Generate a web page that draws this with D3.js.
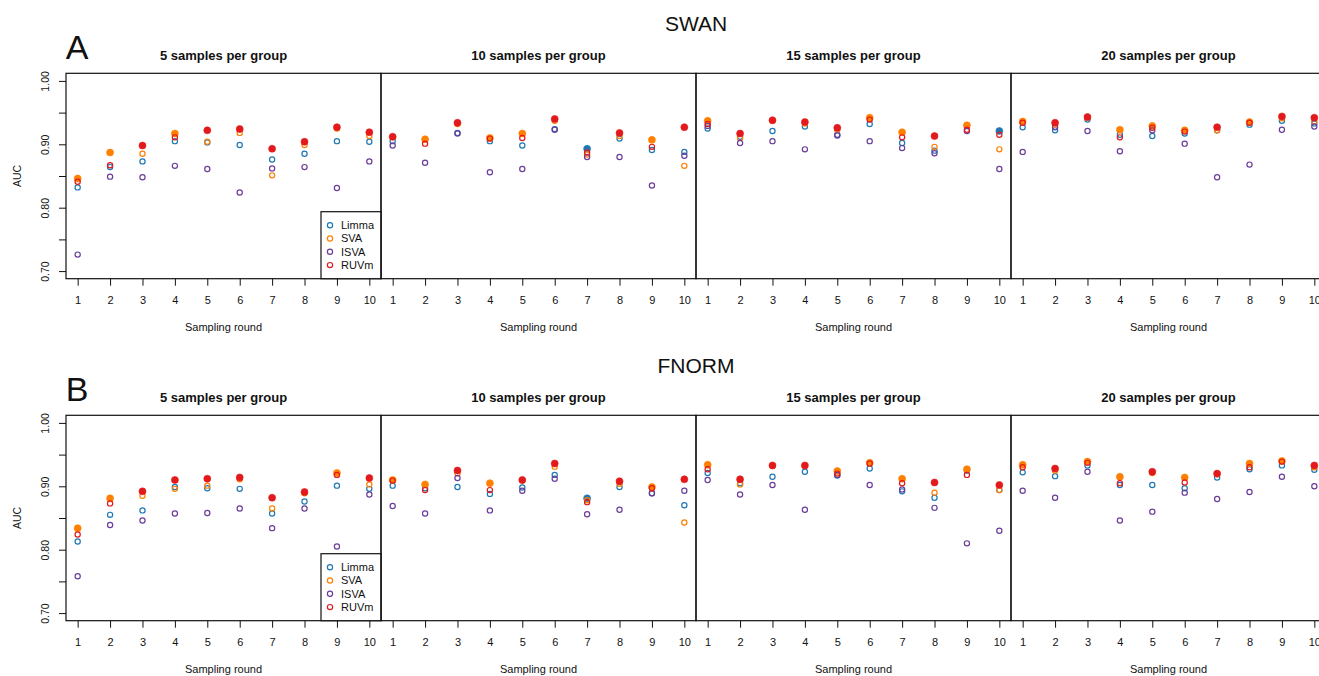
<!DOCTYPE html>
<html>
<head>
<meta charset="utf-8">
<script src="https://cdn.jsdelivr.net/npm/d3@7"></script>
<style>
  html, body { margin: 0; padding: 0; background: #fff; }
  svg { display: block; font-family: "Liberation Sans", Arial, Helvetica, sans-serif; }
</style>
</head>
<body>
<svg id="chart" width="1319" height="676"></svg>
<script>
// ---------- data ----------
const rounds = [1, 2, 3, 4, 5, 6, 7, 8, 9, 10];
const sampleSizes = [5, 10, 15, 20];
const panelTitles = ["5 samples per group", "10 samples per group", "15 samples per group", "20 samples per group"];
const methods = ["Limma", "SVA", "ISVA", "RUVm"];
const methodColors = ["#1F78B4", "#FF7F00", "#6A3D9A", "#E31A1C"];
const normalizations = ["SWAN", "FNORM"];
const rowLetters = ["A", "B"];
const yTicks = [0.70, 0.75, 0.80, 0.85, 0.90, 0.95, 1.00];
const yTickLabels = ["0.70", "", "0.80", "", "0.90", "", "1.00"];

// SWAN: one row per sample size (5, 10, 15, 20), 10 sampling rounds each
const swanLimma = [
  [0.832, 0.864, 0.873, 0.905, 0.903, 0.899, 0.876, 0.885, 0.905, 0.904],
  [0.905, 0.907, 0.918, 0.905, 0.898, 0.924, 0.893, 0.909, 0.891, 0.888],
  [0.925, 0.912, 0.921, 0.928, 0.915, 0.932, 0.902, 0.890, 0.929, 0.921],
  [0.927, 0.922, 0.939, 0.915, 0.913, 0.917, 0.922, 0.931, 0.937, 0.933]
];
const swanSVA = [
  [0.846, 0.887, 0.885, 0.917, 0.904, 0.918, 0.851, 0.899, 0.925, 0.913],
  [0.911, 0.908, 0.932, 0.910, 0.917, 0.937, 0.884, 0.913, 0.907, 0.866],
  [0.937, 0.910, 0.937, 0.933, 0.923, 0.942, 0.919, 0.896, 0.930, 0.892],
  [0.936, 0.931, 0.942, 0.923, 0.929, 0.922, 0.922, 0.935, 0.941, 0.936]
];
const swanISVA = [
  [0.726, 0.849, 0.848, 0.866, 0.861, 0.824, 0.862, 0.864, 0.831, 0.873],
  [0.898, 0.871, 0.917, 0.856, 0.861, 0.923, 0.880, 0.880, 0.835, 0.882],
  [0.929, 0.902, 0.905, 0.892, 0.914, 0.905, 0.894, 0.886, 0.921, 0.861],
  [0.888, 0.927, 0.921, 0.889, 0.922, 0.901, 0.848, 0.868, 0.923, 0.928]
];
const swanRUVm = [
  [0.841, 0.867, 0.898, 0.911, 0.922, 0.924, 0.893, 0.904, 0.927, 0.919],
  [0.912, 0.901, 0.934, 0.909, 0.910, 0.940, 0.887, 0.918, 0.896, 0.927],
  [0.932, 0.917, 0.938, 0.935, 0.926, 0.939, 0.911, 0.913, 0.923, 0.915],
  [0.934, 0.934, 0.943, 0.911, 0.926, 0.920, 0.927, 0.934, 0.944, 0.942]
];

// FNORM
const fnormLimma = [
  [0.813, 0.855, 0.862, 0.899, 0.897, 0.896, 0.857, 0.876, 0.901, 0.896],
  [0.901, 0.897, 0.899, 0.888, 0.898, 0.918, 0.881, 0.899, 0.889, 0.870],
  [0.921, 0.905, 0.915, 0.923, 0.917, 0.928, 0.892, 0.882, 0.925, 0.894],
  [0.922, 0.916, 0.933, 0.902, 0.902, 0.897, 0.914, 0.927, 0.933, 0.926]
];
const fnormSVA = [
  [0.834, 0.881, 0.885, 0.896, 0.901, 0.911, 0.865, 0.889, 0.921, 0.903],
  [0.910, 0.903, 0.920, 0.905, 0.909, 0.931, 0.878, 0.904, 0.899, 0.843],
  [0.934, 0.903, 0.932, 0.932, 0.924, 0.937, 0.912, 0.890, 0.927, 0.894],
  [0.934, 0.925, 0.939, 0.915, 0.921, 0.914, 0.919, 0.936, 0.940, 0.930]
];
const fnormISVA = [
  [0.758, 0.839, 0.846, 0.857, 0.858, 0.865, 0.834, 0.865, 0.805, 0.887],
  [0.869, 0.857, 0.913, 0.862, 0.893, 0.912, 0.856, 0.863, 0.889, 0.893],
  [0.910, 0.887, 0.902, 0.863, 0.918, 0.902, 0.895, 0.866, 0.810, 0.830],
  [0.893, 0.882, 0.923, 0.846, 0.860, 0.890, 0.880, 0.891, 0.915, 0.900]
];
const fnormRUVm = [
  [0.824, 0.873, 0.892, 0.910, 0.912, 0.914, 0.882, 0.891, 0.918, 0.913],
  [0.909, 0.894, 0.925, 0.894, 0.910, 0.936, 0.875, 0.908, 0.897, 0.911],
  [0.927, 0.911, 0.933, 0.933, 0.920, 0.936, 0.905, 0.906, 0.918, 0.902],
  [0.930, 0.928, 0.937, 0.905, 0.923, 0.906, 0.920, 0.930, 0.939, 0.933]
];

const rowData = [
  [swanLimma, swanSVA, swanISVA, swanRUVm],
  [fnormLimma, fnormSVA, fnormISVA, fnormRUVm]
];

// ---------- layout ----------
const svg = d3.select("#chart");
const plotLeft = 66, panelW = 315;
const rowTop = [73.3, 415.3];
const rowH = 205.4;
const ink = "#111";

rowData.forEach((series, r) => {
  const top = rowTop[r], bottom = top + rowH;
  const g = svg.append("g");

  const y = d3.scaleLinear().domain([0.688, 1.012]).range([bottom, top]);

  // main title
  g.append("text").attr("x", plotLeft + panelW * 2).attr("y", top - 42)
    .attr("text-anchor", "middle").attr("font-size", 21).attr("fill", ink)
    .text(normalizations[r]);
  // row letter
  g.append("text").attr("x", 77).attr("y", top - 14)
    .attr("text-anchor", "middle").attr("font-size", 34).attr("fill", ink)
    .text(rowLetters[r]);

  // y axis
  const yAxis = d3.axisLeft(y).tickValues(yTicks).tickSize(7)
    .tickFormat((d, i) => yTickLabels[i]);
  const ya = g.append("g").attr("transform", `translate(${plotLeft},0)`).call(yAxis);
  ya.select(".domain").remove();
  ya.selectAll(".tick line").attr("stroke", ink);
  ya.selectAll(".tick text")
    .attr("x", null).attr("dy", null)
    .attr("transform", "translate(-20.7,0) rotate(-90)")
    .attr("text-anchor", "middle").attr("dominant-baseline", "central")
    .attr("font-size", 10.5).attr("fill", ink)
    .attr("font-family", "Liberation Sans, Arial, sans-serif");

  g.append("text")
    .attr("transform", `translate(17.3,${(top + bottom) / 2}) rotate(-90)`)
    .attr("text-anchor", "middle").attr("dominant-baseline", "central")
    .attr("font-size", 10.5).attr("fill", ink).text("AUC");

  sampleSizes.forEach((s, p) => {
    const x0 = plotLeft + p * panelW;
    const x = d3.scaleLinear().domain([0.64, 10.36]).range([x0, x0 + panelW]);
    const pg = g.append("g");

    // panel title
    pg.append("text").attr("x", x0 + panelW / 2).attr("y", top - 13)
      .attr("text-anchor", "middle").attr("font-size", 13).attr("font-weight", "bold")
      .attr("fill", ink).text(panelTitles[p]);

    // x axis
    const xAxis = d3.axisBottom(x).tickValues(rounds).tickSize(7).tickFormat(d3.format("d"));
    const xa = pg.append("g").attr("transform", `translate(0,${bottom})`).call(xAxis);
    xa.select(".domain").remove();
    xa.selectAll(".tick line").attr("stroke", ink);
    xa.selectAll(".tick text").attr("y", 21.5).attr("dy", "0.35em")
      .attr("font-size", 11).attr("fill", ink)
      .attr("font-family", "Liberation Sans, Arial, sans-serif");

    pg.append("text").attr("x", x0 + panelW / 2).attr("y", bottom + 52)
      .attr("text-anchor", "middle").attr("font-size", 11).attr("fill", ink)
      .text("Sampling round");

    // points: highest AUC in each round is drawn filled
    const pts = [];
    methods.forEach((m, mi) => {
      rounds.forEach((rd, ri) => {
        const vals = methods.map((_, k) => series[k][p][ri]);
        const best = d3.maxIndex(vals) === mi;
        pts.push({ round: rd, value: series[mi][p][ri], color: methodColors[mi], best });
      });
    });
    pg.selectAll("circle.pt").data(pts).join("circle").attr("class", "pt")
      .attr("cx", d => x(d.round)).attr("cy", d => y(d.value))
      .attr("r", d => d.best ? 3.5 : 2.6)
      .attr("fill", d => d.best ? d.color : "none")
      .attr("stroke", d => d.color)
      .attr("stroke-width", d => d.best ? 0.6 : 1.2);

    // panel box
    pg.append("rect").attr("x", x0).attr("y", top).attr("width", panelW).attr("height", rowH)
      .attr("fill", "none").attr("stroke", ink).attr("stroke-width", 1.2);

    // legend in first panel
    if (p === 0) {
      const lx = x0 + panelW - 60, ly = bottom - 67;
      const lg = pg.append("g");
      lg.append("rect").attr("x", lx).attr("y", ly).attr("width", 60).attr("height", 67)
        .attr("fill", "#fff").attr("stroke", ink).attr("stroke-width", 1.2);
      methods.forEach((m, mi) => {
        const cy = ly + 13.5 + mi * 13.3;
        lg.append("circle").attr("cx", lx + 9).attr("cy", cy).attr("r", 2.6)
          .attr("fill", "none").attr("stroke", methodColors[mi]).attr("stroke-width", 1.2);
        lg.append("text").attr("x", lx + 20).attr("y", cy).attr("dy", "0.35em")
          .attr("font-size", 11).attr("fill", ink).text(m);
      });
    }
  });
});
</script>
</body>
</html>
